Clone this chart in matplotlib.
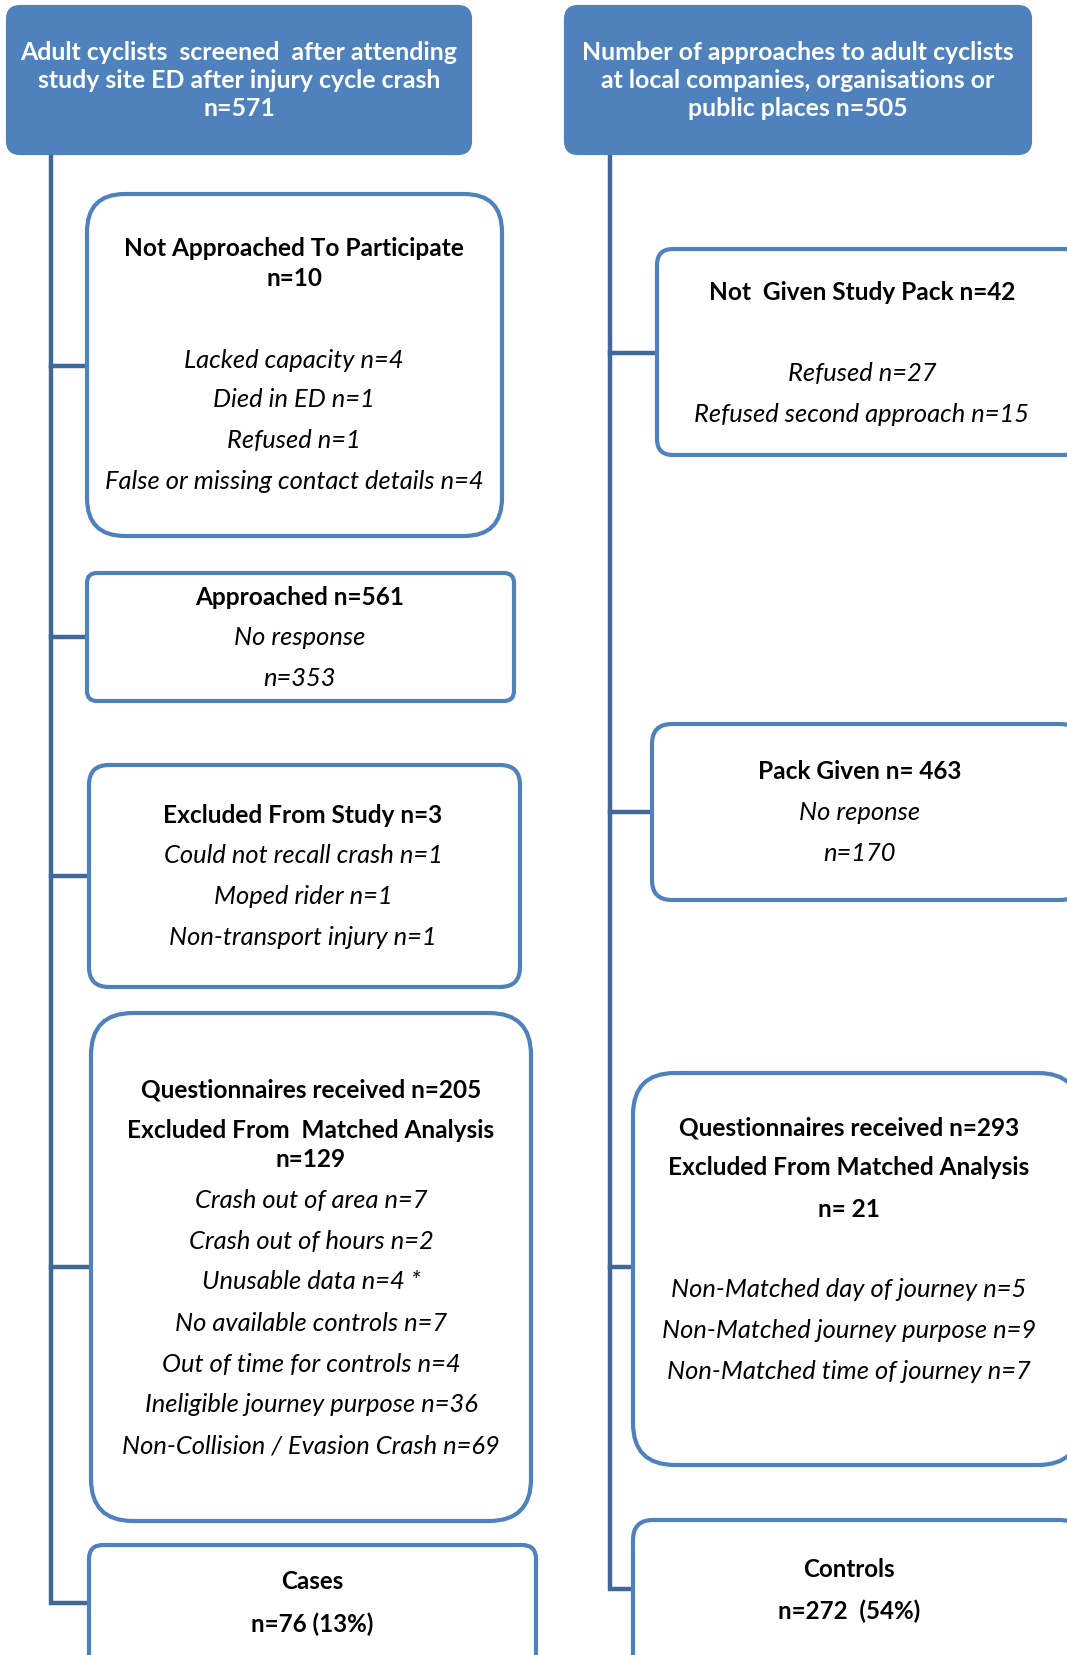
import matplotlib
matplotlib.use("Agg")
import matplotlib.pyplot as plt
from matplotlib.patches import FancyBboxPatch

plt.rcParams['font.family'] = ['Lato', 'DejaVu Sans']

# --- content of the flow chart ---
left_header = ["Adult cyclists  screened  after attending",
               "study site ED after injury cycle crash", "n=571"]
right_header = ["Number of approaches to adult cyclists",
                "at local companies, organisations or", "public places n=505"]

not_approached = ["Not Approached To Participate", "n=10"]
not_approached_why = ["Lacked capacity n=4", "Died in ED n=1", "Refused n=1",
                      "False or missing contact details n=4"]
approached = ["Approached n=561"]
approached_why = ["No response", "n=353"]
excluded = ["Excluded From Study n=3"]
excluded_why = ["Could not recall crash n=1", "Moped rider n=1",
                "Non-transport injury n=1"]
cases_q = ["Questionnaires received n=205", "Excluded From  Matched Analysis", "n=129"]
cases_q_why = ["Crash out of area n=7", "Crash out of hours n=2", "Unusable data n=4 *",
               "No available controls n=7", "Out of time for controls n=4",
               "Ineligible journey purpose n=36", "Non-Collision / Evasion Crash n=69"]
cases = ["Cases", "n=76 (13%)"]

not_given = ["Not  Given Study Pack n=42"]
not_given_why = ["Refused n=27", "Refused second approach n=15"]
pack_given = ["Pack Given n= 463"]
pack_given_why = ["No reponse", "n=170"]
controls_q = ["Questionnaires received n=293", "Excluded From Matched Analysis", "n= 21"]
controls_q_why = ["Non-Matched day of journey n=5", "Non-Matched journey purpose n=9",
                  "Non-Matched time of journey n=7"]
controls = ["Controls", "n=272  (54%)"]

W, H = 1067, 1656
fig = plt.figure(figsize=(W / 100, H / 100), dpi=100)
ax = fig.add_axes([0, 0, 1, 1])
ax.set_xlim(0, W)
ax.set_ylim(H, 0)
ax.axis('off')

FILL = '#4F81BD'
LINE = '#41689B'
FS_B = 17.6   # bold headings in boxes
FS_I = 18.4   # italic detail lines


def box(x0, y0, x1, y1, r, filled=False):
    p = FancyBboxPatch((x0, y0), x1 - x0, y1 - y0,
                       boxstyle="round,pad=0,rounding_size=%d" % r,
                       fc=FILL if filled else 'white', ec=FILL, lw=3, zorder=3)
    ax.add_patch(p)


def write(cx, ys, lines, bold=False, italic=False, color='black', fs=None):
    if fs is None:
        fs = FS_B if bold else FS_I
    for y, s in zip(ys, lines):
        ax.text(cx, y, s, ha='center', va='center', fontsize=fs, color=color,
                fontweight='bold' if bold else 'normal',
                fontstyle='italic' if italic else 'normal', zorder=5)


# trunk lines
ax.plot([51, 51, 89], [154, 1604, 1604], color=LINE, lw=3.2, zorder=1, solid_joinstyle='miter')
ax.plot([610, 610, 634], [154, 1590, 1590], color=LINE, lw=3.2, zorder=1, solid_joinstyle='miter')
for y, x1 in [(367, 87), (638, 87), (877, 89), (1268, 91)]:
    ax.plot([51, x1], [y, y], color=LINE, lw=3.2, zorder=1)
for y, x1 in [(354, 657), (813, 652), (1268, 633)]:
    ax.plot([610, x1], [y, y], color=LINE, lw=3.2, zorder=1)

# headers
box(8, 8, 470, 154, 12, filled=True)
box(566, 8, 1030, 154, 12, filled=True)
write(239, [52, 80, 109], left_header, bold=True, color='white', fs=17.9)
write(798, [52, 80, 109], right_header, bold=True, color='white', fs=17.9)

# left column
box(87, 195, 502, 537, 38)
write(294, [249, 279], not_approached, bold=True)
write(294, [360, 400, 441, 482], not_approached_why, italic=True)

box(87, 574, 514, 702, 10)
write(300, [598], approached, bold=True)
write(300, [638, 679], approached_why, italic=True)

box(89, 766, 520, 988, 20)
write(303, [816], excluded, bold=True)
write(303, [856, 897, 938], excluded_why, italic=True)

box(91, 1014, 531, 1522, 42)
write(311, [1090, 1131, 1160], cases_q, bold=True)
write(311, [1201, 1242, 1282, 1324, 1365, 1405, 1446], cases_q_why, italic=True)

box(89, 1546, 536, 1690, 14)
write(312, [1582, 1624], cases, bold=True, fs=17.4)

# right column
box(657, 250, 1080, 456, 16)
write(862, [293], not_given, bold=True)
write(862, [374, 415], not_given_why, italic=True)

box(652, 725, 1080, 901, 20)
write(860, [772], pack_given, bold=True)
write(860, [813, 854], pack_given_why, italic=True)

box(633, 1074, 1080, 1466, 42)
write(849, [1128, 1168, 1210], controls_q, bold=True)
write(849, [1290, 1331, 1372], controls_q_why, italic=True)

box(633, 1521, 1080, 1690, 20)
write(849, [1570, 1611], controls, bold=True, fs=17.4)

fig.savefig('out.png', dpi=100)
